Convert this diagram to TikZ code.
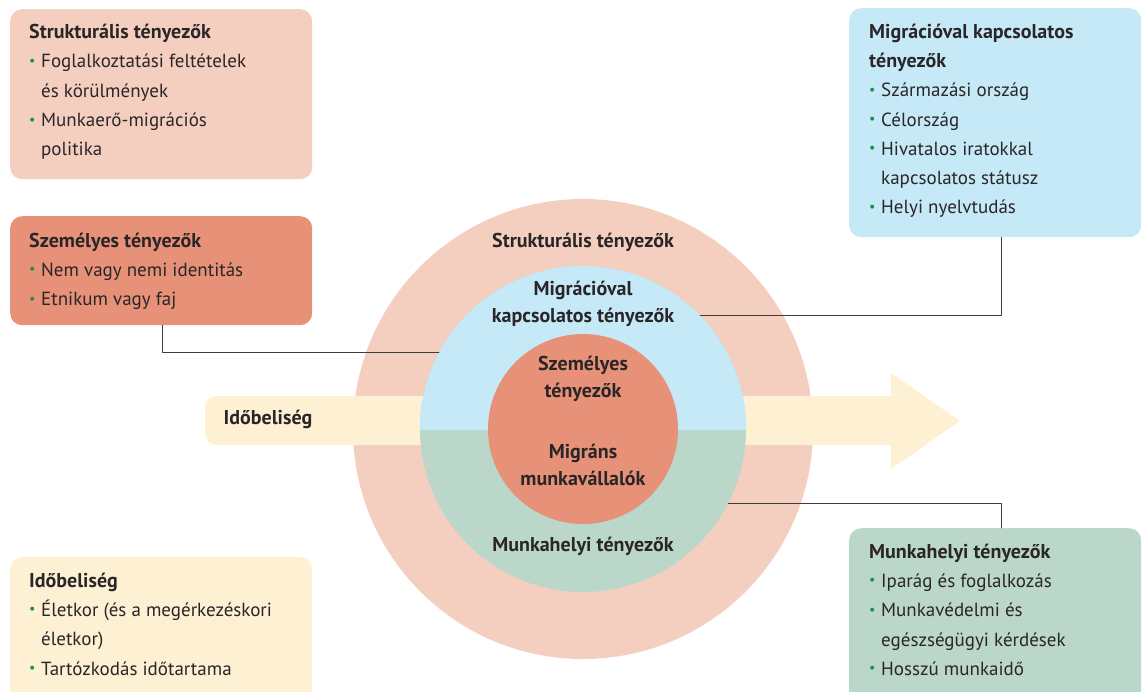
\documentclass[tikz,border=0pt]{standalone}
\usepackage{fontspec}
\setmainfont{PT Sans}
\usetikzlibrary{positioning}
\definecolor{strukpink}{HTML}{F4CFC0}
\definecolor{szemsalmon}{HTML}{E69178}
\definecolor{migblue}{HTML}{C6E9F8}
\definecolor{munkgreen}{HTML}{BBD7C9}
\definecolor{idocream}{HTML}{FEF0D3}
\definecolor{dotgreen}{HTML}{1E8C4E}
\definecolor{inkgray}{HTML}{2A2627}
\newcommand{\bul}{\makebox[12pt][l]{\raisebox{2.5pt}{\textcolor{dotgreen}{\fontsize{14}{14}\selectfont\textbullet}}}}
\newcommand{\cont}{\hspace*{12pt}}
\newcommand{\ttl}[1]{{\bfseries\fontsize{20}{29.3}\selectfont #1}}
\tikzset{
  factorbox/.style={rounded corners=12pt, minimum width=302pt, inner sep=0pt, anchor=north west},
  boxtext/.style={anchor=north west, align=left, inner sep=0pt, text=inkgray, font=\fontsize{19}{29.3}\selectfont},
  ring/.style={circle, inner sep=0pt},
  ringlabel/.style={align=center, inner sep=0pt, text=inkgray, font=\bfseries\fontsize{20}{27}\selectfont},
  connector/.style={draw=inkgray!90, line width=0.9pt}
}

\begin{document}
\begin{tikzpicture}[line cap=round, line join=round, x=1pt, y=-1pt]
\clip (0,0) rectangle (1143,691);
% factor boxes
\node[factorbox, fill=strukpink, minimum height=170pt] (strukbox) at (10,9) {};
\node[factorbox, fill=szemsalmon, minimum height=109pt] (szembox) at (10,216) {};
\node[factorbox, fill=idocream, minimum height=160pt] (idobox) at (10,557) {};
\node[factorbox, fill=migblue, minimum width=292pt, minimum height=229pt] (migbox) at (849,8) {};
\node[factorbox, fill=munkgreen, minimum width=292pt, minimum height=190pt] (munkbox) at (849,528) {};
\node[boxtext] (struktext) at (29,24) {\ttl{Strukturális tényezők}\\
  \bul Foglalkoztatási feltételek\\ \cont és körülmények\\
  \bul Munkaerő-migrációs\\ \cont politika};
\node[boxtext] (szemtext) at (29,232.5) {\ttl{Személyes tényezők}\\
  \bul Nem vagy nemi identitás\\ \bul Etnikum vagy faj};
\node[boxtext] (idotext) at (29,572.5) {\ttl{Időbeliség}\\
  \bul Életkor (és a megérkezéskori\\ \cont életkor)\\ \bul Tartózkodás időtartama};
\node[boxtext] (migtext) at (869,23.5) {\ttl{Migrációval kapcsolatos}\\ \ttl{tényezők}\\
  \bul Származási ország\\ \bul Célország\\ \bul Hivatalos iratokkal\\
  \cont kapcsolatos státusz\\ \bul Helyi nyelvtudás};
\node[boxtext] (munktext) at (869,543.5) {\ttl{Munkahelyi tényezők}\\
  \bul Iparág és foglalkozás\\ \bul Munkavédelmi és\\
  \cont egészségügyi kérdések\\ \bul Hosszú munkaidő};
% rings and time arrow
\node[ring, fill=strukpink, minimum size=460pt] (outer) at (583,429) {};
\node[rounded corners=12pt, fill=idocream, minimum width=700pt, minimum height=49pt, inner sep=0pt] (timeband) at (555,420.5) {};
\fill[idocream] (891,373) -- (960,421) -- (891,469) -- cycle;
\node[ring, fill=munkgreen, minimum size=326pt] (midcircle) at (583,429) {};
\begin{scope}
  \clip (410,429) rectangle (756,260);
  \fill[migblue] (midcircle.center) circle[radius=163pt];
\end{scope}
\node[ring, fill=szemsalmon, minimum size=190pt] (inner) at (583,429) {};
\node[ringlabel] (timelabel) at (268,419) {Időbeliség};
\node[ringlabel] (struklabel) at (583,242) {Strukturális tényezők};
\node[ringlabel] (miglabel) at (583,303.5) {Migrációval\\kapcsolatos tényezők};
\node[ringlabel] (szemlabel) at (583,378.5) {Személyes\\tényezők};
\node[ringlabel] (workerlabel) at (583,465) {Migráns\\munkavállalók};
\node[ringlabel] (munklabel) at (583,546) {Munkahelyi tényezők};
% connectors
\draw[connector] ([xshift=152pt]szembox.south west) |- (midcircle.152);
\draw[connector] ([xshift=152pt]migbox.south west) |- (midcircle.44);
\draw[connector] ([xshift=152pt]munkbox.north west) |- (midcircle.-27);
\end{tikzpicture}
\end{document}
